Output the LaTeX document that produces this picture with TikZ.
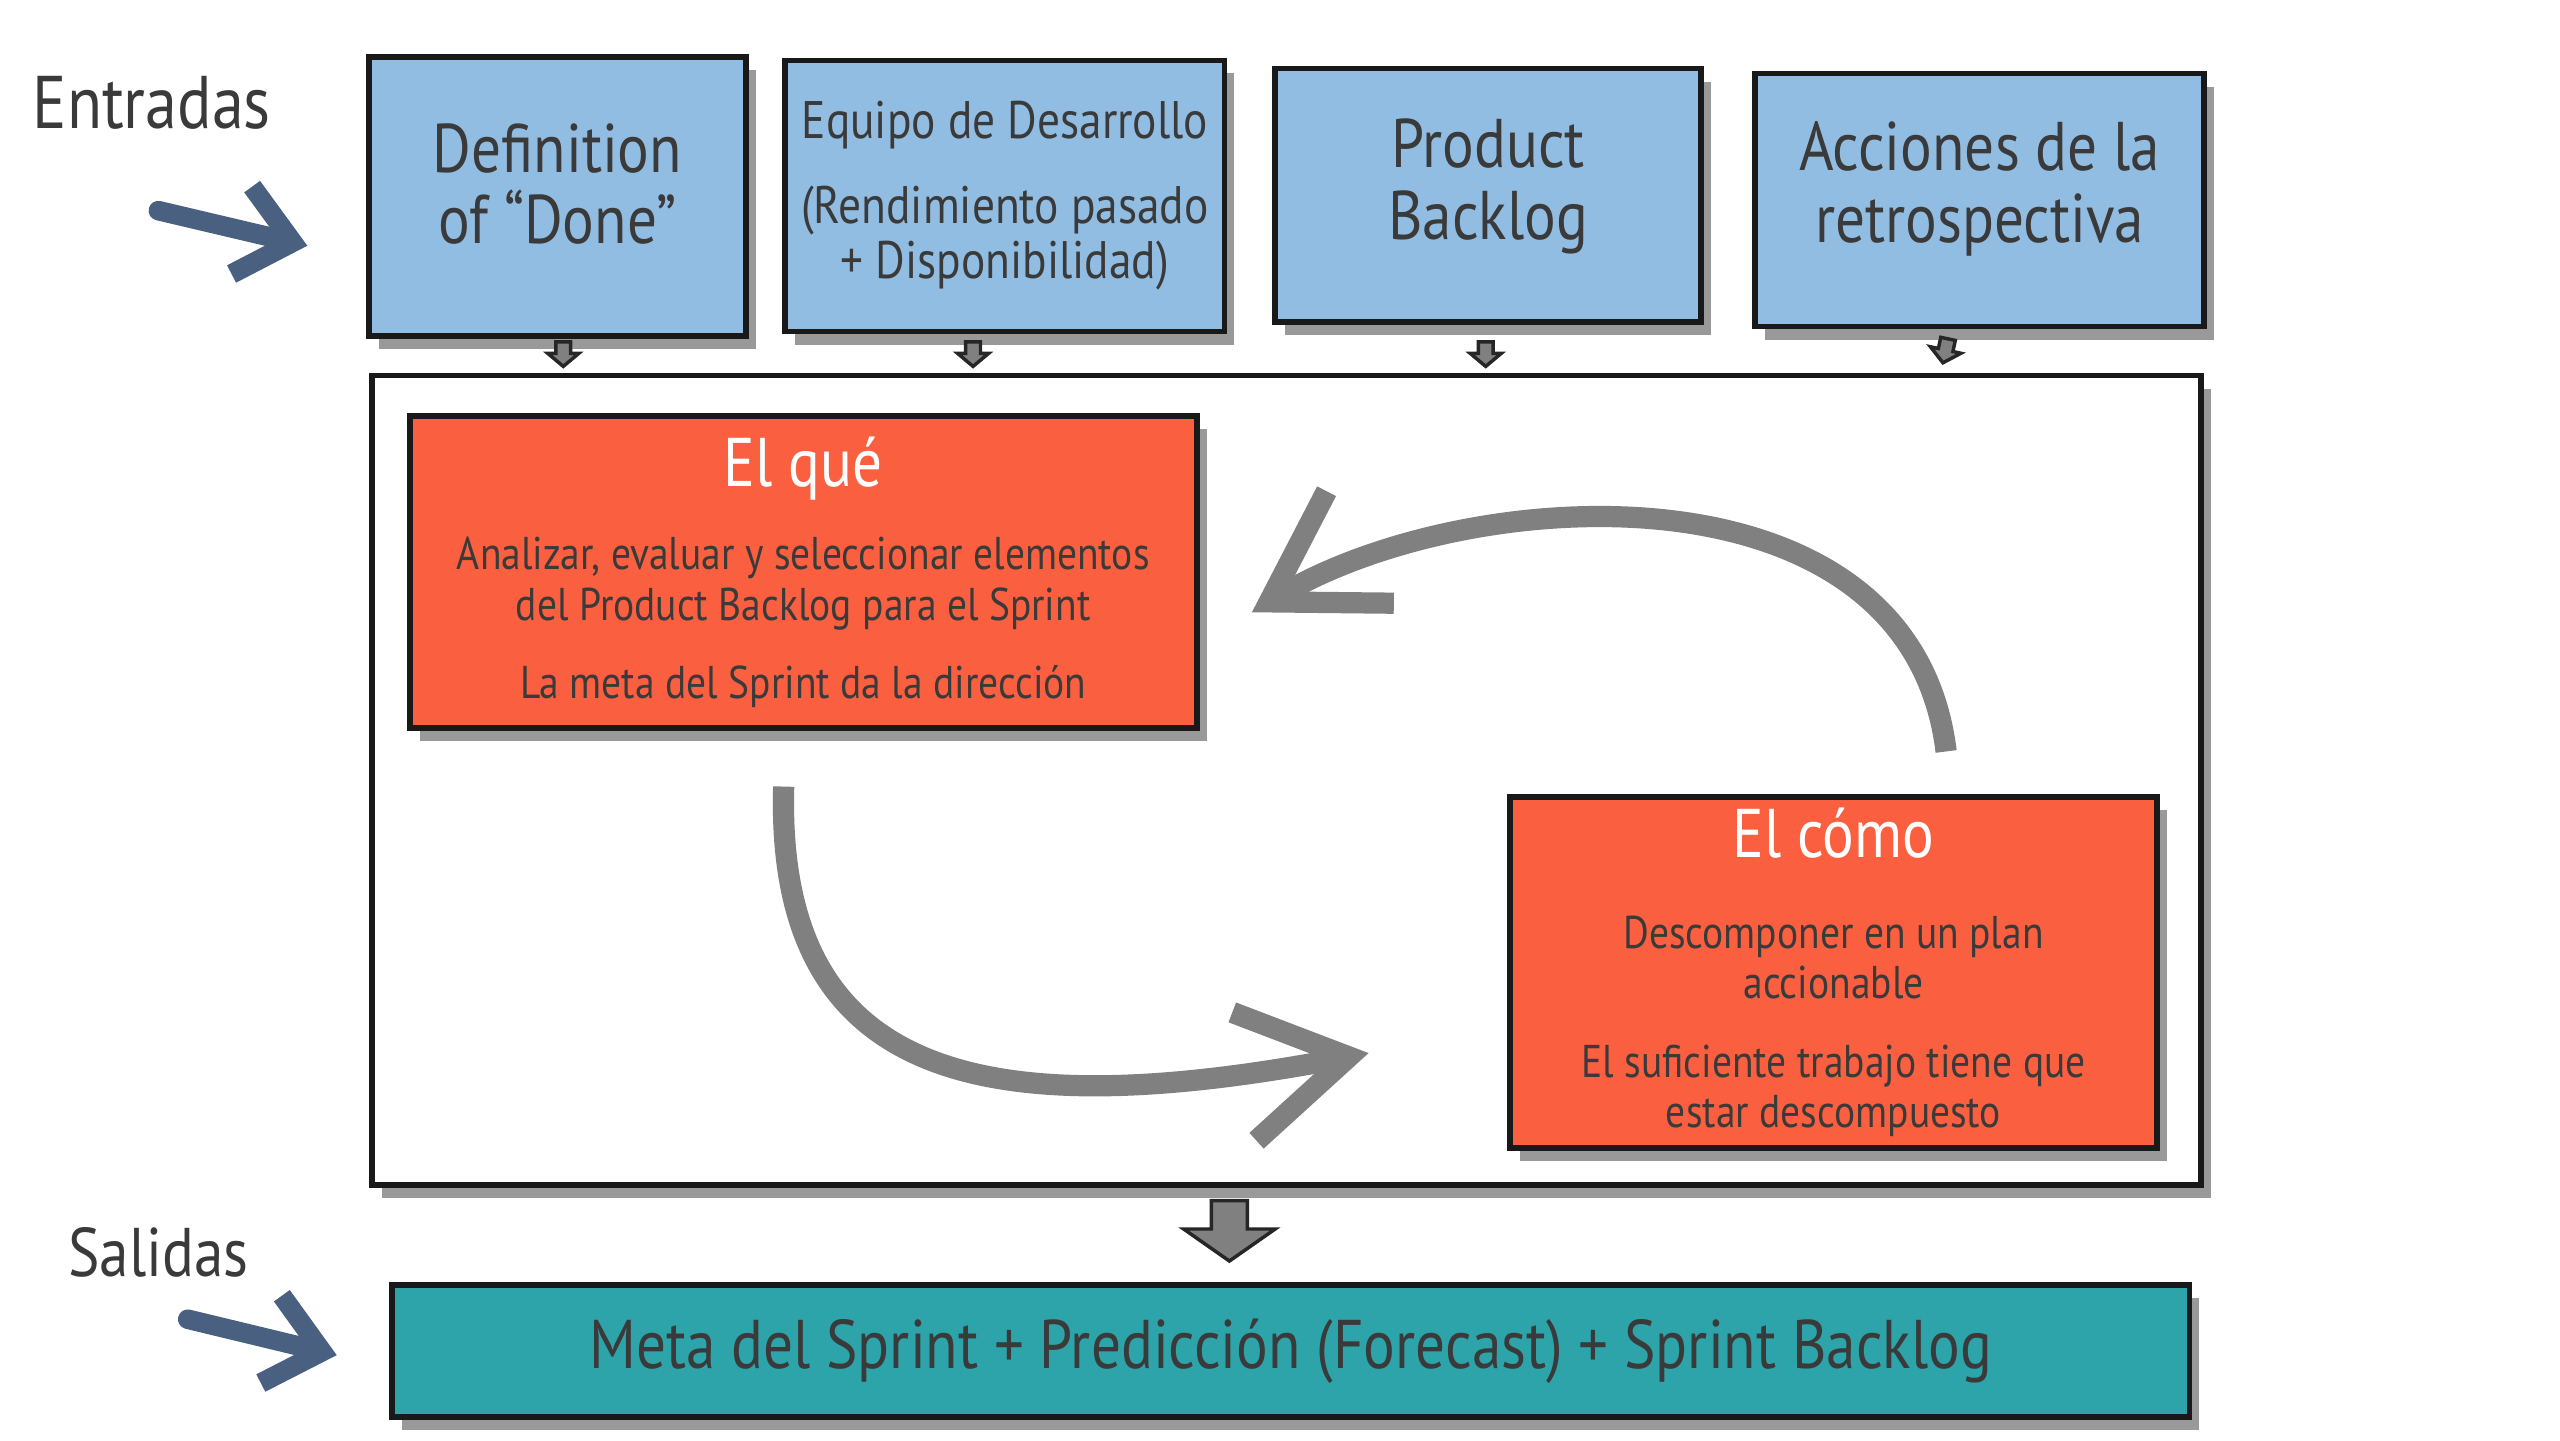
\documentclass[tikz,border=0pt]{standalone}
\usepackage{fontspec}
\setmainfont{PT Sans}[FakeStretch=0.86]
\definecolor{inblue}{RGB}{146, 189, 226}
\definecolor{whatred}{RGB}{250, 96, 64}
\definecolor{outteal}{RGB}{44, 164, 169}
\definecolor{inkgray}{RGB}{58, 58, 58}
\definecolor{brushblue}{RGB}{74, 96, 128}
\definecolor{loopgray}{RGB}{128, 128, 128}
\usepackage{tikz}
\usetikzlibrary{arrows.meta, positioning, calc, shapes.arrows, shadows}

\begin{document}
\begin{tikzpicture}[x=1cm, y=-1cm,
  card/.style={draw=black!90, line width=1pt, text=inkgray, align=center, inner sep=0pt,
    drop shadow={shadow xshift=0.06cm, shadow yshift=-0.08cm, fill=black!40, opacity=1}},
  inbox/.style={card, fill=inblue},
  redbox/.style={card, fill=whatred, font=\fontsize{8}{8.8}\selectfont},
  bigtext/.style={font=\fontsize{12}{12.5}\selectfont},
  tinyarrow/.style={single arrow, shape border rotate=270, draw=black!85, fill=black!50,
    line width=0.6pt, inner sep=0.035cm, minimum height=0.15cm,
    single arrow head extend=0.05cm, single arrow tip angle=100},
  brush/.style={brushblue, line width=0.12cm, line cap=round,
    -{Straight Barb[length=0.32cm 0 0, width=0.55cm 0 0]}},
  cyclearrow/.style={loopgray, line width=0.13cm,
    -{Straight Barb[length=0.65cm 0 0, width=0.8cm 0 0]}}]
  \useasboundingbox (0, 0) rectangle (15.68, 8.82);

  % Inputs
  \node[font=\fontsize{13}{13}\selectfont, text=inkgray] (entradas) at (0.93, 0.63) {Entradas};
  \node[inbox, bigtext, minimum width=2.31cm, minimum height=1.71cm] (dod) at (3.415, 1.205) {Definition\\of “Done”\rule[-0.16cm]{0pt}{0pt}};
  \node[inbox, font=\fontsize{9.2}{9.7}\selectfont, minimum width=2.69cm, minimum height=1.66cm] (team) at (6.155, 1.2) {Equipo de Desarrollo\\[5pt](Rendimiento pasado\\+ Disponibilidad)};
  \node[inbox, bigtext, minimum width=2.61cm, minimum height=1.55cm] (backlog) at (9.115, 1.195) {Product\\Backlog\rule[-0.2cm]{0pt}{0pt}};
  \node[inbox, bigtext, minimum width=2.75cm, minimum height=1.55cm] (retro) at (12.125, 1.225) {Acciones de la\\retrospectiva\rule[-0.225cm]{0pt}{0pt}};

  \coordinate (inTail) at (0.97, 1.29);
  \draw[brush] (inTail) -- ([xshift=-0.36cm, yshift=-0.3cm]dod.west);

  % Planning area
  \node[card, fill=white, minimum width=11.2cm, minimum height=4.96cm] (planning) at (7.88, 4.78) {};

  \node[tinyarrow] (d1) at (3.45, 2.15) {};
  \node[tinyarrow] (d2) at (5.96, 2.15) {};
  \node[tinyarrow] (d3) at (9.10, 2.15) {};
  \node[tinyarrow, rotate=-12] (d4) at (11.92, 2.13) {};

  \node[redbox, minimum width=4.82cm, minimum height=1.91cm] (que) at (4.92, 3.505) {
    {\fontsize{12}{12.5}\selectfont\color{white}El qué}\\[5.7pt]
    Analizar, evaluar y seleccionar elementos\\
    del Product Backlog para el Sprint\\[4.9pt]
    La meta del Sprint da la dirección};
  \node[redbox, minimum width=3.96cm, minimum height=2.15cm] (como) at (11.23, 5.955) {
    {\fontsize{12}{12.5}\selectfont\color{white}El cómo}\\[7.1pt]
    Descomponer en un plan\\
    accionable\\[4.9pt]
    El suficiente trabajo tiene que\\
    estar descompuesto};

  % Loop between the two steps
  \draw[cyclearrow] ([xshift=0.69cm, yshift=0.26cm]como.north) .. controls (11.70, 2.80) and (9.00, 2.95) .. ([xshift=0.32cm, yshift=-0.245cm]que.east);
  \draw[cyclearrow] ([xshift=-0.12cm, yshift=-0.34cm]que.south) .. controls (4.75, 6.60) and (6.00, 6.90) .. ([xshift=-0.85cm, yshift=-0.495cm]como.west);

  % Outputs
  \node[bigtext, text=inkgray] (salidas) at (0.97, 7.67) {Salidas};
  \node[card, fill=outteal, bigtext, minimum width=11.01cm, minimum height=0.81cm] (result) at (7.905, 8.275) {Meta del Sprint + Predicción (Forecast) + Sprint Backlog};
  \node[tinyarrow, inner sep=0.1cm, minimum height=0.37cm, single arrow head extend=0.17cm, single arrow tip angle=110] (dout) at (7.53, 7.5) {};

  \coordinate (outTail) at (1.15, 8.08);
  \draw[brush] (outTail) -- ([xshift=-0.32cm, yshift=-0.025cm]result.west);
\end{tikzpicture}
\end{document}
